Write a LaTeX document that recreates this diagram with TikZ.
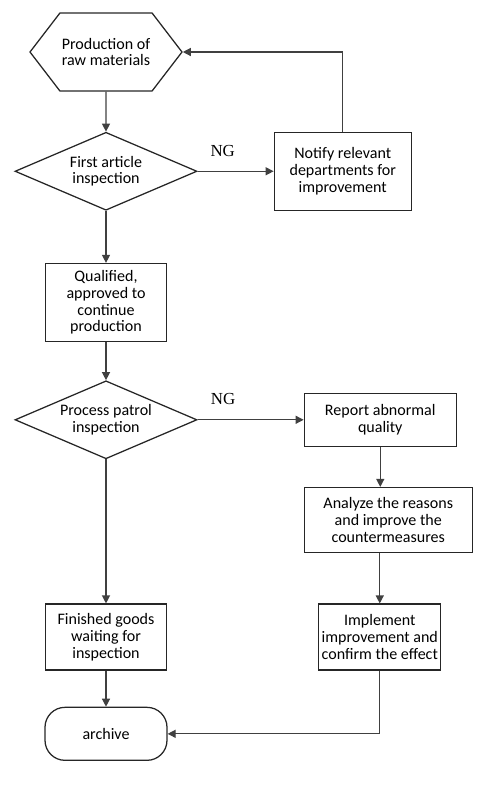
\documentclass[tikz,border=0pt]{standalone}
\usepackage{fontspec}
\setmainfont{Carlito}
\newfontfamily\ngfont{Liberation Serif}
\usetikzlibrary{shapes.geometric,shapes.symbols,arrows.meta,positioning}

\begin{document}
\begin{tikzpicture}[
    node distance=1cm,
    every node/.style={font=\fontsize{11.4pt}{11.9pt}\selectfont},
    box/.style={rectangle, draw=black!85, line width=0.9pt, align=center, inner sep=0.5pt, minimum width=3.025cm, minimum height=1.95cm},
    decision/.style={diamond, draw=black!85, line width=0.9pt, align=center, aspect=2.33, inner sep=0pt, minimum width=4.55cm, minimum height=1.95cm},
    start/.style={signal, signal to=west and east, signal pointer angle=105, draw=black!85, line width=0.9pt, align=center, inner sep=1pt, minimum width=3.8cm, minimum height=1.95cm},
    terminal/.style={rectangle, rounded corners=0.5cm, draw=black!85, line width=0.9pt, minimum width=3.05cm, minimum height=1.325cm},
    ng/.style={font=\ngfont\fontsize{12pt}{12pt}\selectfont, above=0.36cm, inner sep=0pt},
    arrow/.style={draw=black!75, line width=0.9pt, -{Triangle[length=0.2cm, width=0.2cm]}}
]
\useasboundingbox (0,0) rectangle (12.5,-20.05);

% Left column
\node[start] (prod) at (2.65,-1.3) {Production of\\raw materials};
\node[decision, below=1cm of prod] (first) {First article\\inspection};
\node[box, below=1.3cm of first] (qualified) {Qualified,\\approved to\\continue\\production};
\node[decision, below=0.95cm of qualified] (patrol) {Process patrol\\inspection};
\node[box, below=3.6cm of patrol, minimum height=1.65cm] (finished) {Finished goods\\waiting for\\inspection};
\node[terminal, below=0.9cm of finished] (archive) {archive};

% Right column
\node[box, right=1.9cm of first, minimum width=3.425cm] (notify) {Notify relevant\\departments for\\improvement};
\node[box, right=2.65cm of patrol, minimum width=3.8cm, minimum height=1.325cm] (report) {Report abnormal\\quality};
\node[box, below=1cm of report.south west, anchor=north west, minimum width=4.2cm, minimum height=1.625cm] (analyze) {Analyze the reasons\\and improve the\\countermeasures};
\node[box, right=3.775cm of finished, minimum width=3.05cm, minimum height=1.65cm] (implement) {Implement\\improvement and\\confirm the effect};

% Arrows
\draw[arrow] (prod) -- (first);
\draw[arrow] (first) -- node[ng, pos=0.33] {NG} (notify);
\draw[arrow] (notify.north) |- (prod.east);
\draw[arrow] (first) -- (qualified);
\draw[arrow] (qualified) -- (patrol);
\draw[arrow] (patrol) -- node[ng, pos=0.24] {NG} (report);
\draw[arrow] (report) -- (report.south |- analyze.north);
\draw[arrow] (analyze.south -| implement.north) -- (implement);
\draw[arrow] (patrol) -- (finished);
\draw[arrow] (finished) -- (archive);
\draw[arrow] (implement.south) |- (archive.east);

\end{tikzpicture}
\end{document}
